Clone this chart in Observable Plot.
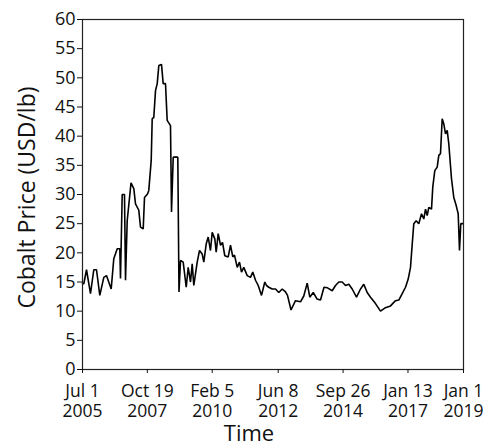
<!DOCTYPE html>
<html><head><meta charset="utf-8">
<script src="https://cdn.jsdelivr.net/npm/d3@7"></script>
<script src="https://cdn.jsdelivr.net/npm/@observablehq/plot@0.6"></script>
<style>body{margin:0;background:#fff}</style>
</head><body><div id="chart"></div>
<script>
// time in decimal years, cobalt price in USD/lb
const years = [2005.5,2005.546,2005.642,2005.783,2005.900,2005.996,2006.113,2006.255,2006.350,2006.517,
2006.609,2006.730,2006.822,2006.846,2006.907,2006.988,2007.024,2007.084,2007.219,2007.318,
2007.378,2007.495,2007.555,2007.651,2007.697,2007.803,2007.849,2007.934,2007.970,2008.026,
2008.087,2008.147,2008.204,2008.299,2008.359,2008.441,2008.501,2008.618,2008.654,2008.714,
2008.877,2008.919,2008.973,2009.068,2009.175,2009.245,2009.327,2009.387,2009.444,2009.564,
2009.646,2009.741,2009.798,2009.883,2009.954,2010.035,2010.096,2010.188,2010.237,2010.308,
2010.390,2010.461,2010.542,2010.663,2010.744,2010.826,2010.886,2010.982,2011.063,2011.134,
2011.215,2011.336,2011.453,2011.534,2011.630,2011.726,2011.843,2011.960,2012.020,2012.101,
2012.222,2012.339,2012.456,2012.576,2012.693,2012.764,2012.888,2013.047,2013.225,2013.341,
2013.462,2013.554,2013.675,2013.809,2013.933,2014.057,2014.181,2014.348,2014.465,2014.582,
2014.702,2014.819,2014.936,2015.056,2015.209,2015.351,2015.468,2015.588,2015.705,2015.882,
2016.059,2016.236,2016.414,2016.591,2016.708,2016.828,2016.945,2017.041,2017.122,2017.183,
2017.239,2017.324,2017.416,2017.512,2017.593,2017.654,2017.714,2017.771,2017.866,2017.912,
2017.983,2018.068,2018.125,2018.185,2018.245,2018.302,2018.362,2018.422,2018.479,2018.575,
2018.656,2018.741,2018.812,2018.858,2018.904,2018.975];
const prices = [14.7,14.7,17.1,13.0,17.1,17.1,12.7,15.8,16.1,13.8,
19.0,20.7,20.7,15.6,30.0,30.0,15.3,25.5,32.0,31.0,
28.4,27.3,24.4,24.1,29.5,30.1,30.7,35.8,43.0,43.2,
47.8,49.0,52.1,52.3,49.0,49.0,42.7,41.8,27.0,36.4,
36.4,13.3,18.7,18.4,14.1,17.5,15.0,18.1,14.4,18.4,
20.4,19.8,18.4,21.5,22.7,20.4,23.5,22.4,20.1,23.3,
21.3,21.8,19.5,19.3,21.3,19.3,19.6,17.5,18.4,16.7,
17.5,16.1,15.8,16.7,15.3,14.4,12.7,15.0,14.4,14.1,
13.8,13.8,13.2,13.8,13.3,12.7,10.2,11.8,11.6,12.6,
14.8,12.4,13.2,12.1,11.9,14.1,14.0,13.5,14.4,15.0,
15.0,14.4,14.6,13.8,12.4,13.8,14.6,13.2,12.4,11.3,
10.0,10.6,10.9,11.8,11.9,13.0,14.1,15.5,17.5,21.5,
25.0,25.5,25.0,26.7,25.8,27.5,26.4,27.8,27.5,31.3,
34.1,34.7,36.7,37.0,43.0,42.1,40.4,41.0,38.7,32.7,
29.5,28.1,26.7,20.4,25.0,25.0];
const xTickYears = [2005.5, 2007.797, 2010.096, 2012.434, 2014.734, 2017.033, 2019.0];
const xTickLabels = ["Jul 1\n2005","Oct 19\n2007","Feb 5\n2010","Jun 8\n2012","Sep 26\n2014","Jan 13\n2017","Jan 1\n2019"];
const yTicks = [0,5,10,15,20,25,30,35,40,45,50,55,60];
const xTitle = "Time";
const yTitle = "Cobalt Price (USD/lb)";

const data = years.map((t, i) => ({t, v: prices[i]}));

const chart = Plot.plot({
  width: 501,
  height: 446,
  marginLeft: 82,
  marginRight: 38,
  marginTop: 19,
  marginBottom: 77,
  style: {fontFamily: "Open Sans", color: "#111", background: "#fff", overflow: "visible"},
  x: {type: "linear", domain: [2005.5, 2019.0]},
  y: {domain: [0, 60]},
  marks: [
    Plot.line(data, {x: "t", y: "v", stroke: "#000", strokeWidth: 1.6, strokeLinejoin: "miter"}),
    Plot.frame({stroke: "#222", strokeWidth: 1.2}),
    Plot.axisY({ticks: yTicks, tickSize: 5, tickPadding: 2, fontSize: 18, label: null}),
    Plot.axisX({ticks: xTickYears, tickSize: 4, tickPadding: 9, fontSize: 17.5, lineHeight: 1.15,
      tickFormat: (d) => xTickLabels[xTickYears.indexOf(d)], label: null}),
    Plot.text([yTitle], {frameAnchor: "left", textAnchor: "middle", lineAnchor: "middle", rotate: -90, dx: -55, dy: 3, fontSize: 23, fill: "#111"}),
    Plot.text([xTitle], {frameAnchor: "bottom", textAnchor: "middle", lineAnchor: "middle", dy: 64, dx: -24, fontSize: 22, fill: "#111"})
  ]
});
document.getElementById("chart").appendChild(chart);
</script>
</body></html>
